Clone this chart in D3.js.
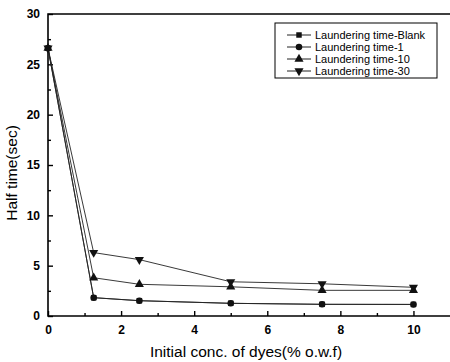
<!DOCTYPE html>
<html>
<head>
<meta charset="utf-8">
<script src="https://cdn.jsdelivr.net/npm/d3@7"></script>
<style>
    body { margin: 0; background: #fff; }
    svg { display: block; font-family: Arial, 'Liberation Sans', sans-serif; }
</style>
</head>
<body>
<svg id="chart" width="450" height="362"></svg>
<script>
// Values
const concentrations = [0, 1.25, 2.5, 5, 7.5, 10];
const seriesNames = ['Laundering time-Blank', 'Laundering time-1', 'Laundering time-10', 'Laundering time-30'];
const blankValues = [26.6, 1.82, 1.52, 1.26, 1.16, 1.15];
const time1Values = [26.6, 1.82, 1.52, 1.26, 1.16, 1.15];
const time10Values = [26.6, 3.8, 3.15, 2.9, 2.55, 2.55];
const time30Values = [26.6, 6.3, 5.6, 3.4, 3.2, 2.85];
const xTicks = [0, 2, 4, 6, 8, 10];
const yTicks = [0, 5, 10, 15, 20, 25, 30];

const svg = d3.select('#chart');
const margin = { left: 48, top: 14, right: 450, bottom: 316 };

const x = d3.scaleLinear().domain([0, 11]).range([margin.left, margin.right]);
const y = d3.scaleLinear().domain([0, 30]).range([margin.bottom, margin.top]);

// Frame: left, bottom and top lines (right edge falls outside the picture)
svg.append('path')
    .attr('d', `M${margin.right},${margin.top}H${margin.left}V${margin.bottom}H${margin.right}`)
    .attr('fill', 'none')
    .attr('stroke', '#000')
    .attr('stroke-width', 1.6);

// X axis, ticks pointing inward
const xAxis = svg.append('g')
    .attr('transform', `translate(0,${margin.bottom})`)
    .call(d3.axisBottom(x).tickValues(xTicks).tickSizeInner(-5).tickSizeOuter(0).tickPadding(9));
xAxis.select('.domain').remove();
xAxis.selectAll('text').attr('font-size', 12).attr('font-weight', 'bold').attr('fill', '#000');
svg.append('g')
    .attr('transform', `translate(0,${margin.bottom})`)
    .call(d3.axisBottom(x).tickValues([1, 3, 5, 7, 9]).tickSizeInner(-3).tickSizeOuter(0).tickFormat(''))
    .select('.domain').remove();

// Y axis, ticks pointing inward
const yAxis = svg.append('g')
    .attr('transform', `translate(${margin.left},0)`)
    .call(d3.axisLeft(y).tickValues(yTicks).tickSizeInner(-5).tickSizeOuter(0).tickPadding(8));
yAxis.select('.domain').remove();
yAxis.selectAll('text').attr('font-size', 12).attr('font-weight', 'bold').attr('fill', '#000');
svg.append('g')
    .attr('transform', `translate(${margin.left},0)`)
    .call(d3.axisLeft(y).tickValues([2.5, 7.5, 12.5, 17.5, 22.5, 27.5]).tickSizeInner(-3).tickSizeOuter(0).tickFormat(''))
    .select('.domain').remove();

svg.selectAll('.tick line').attr('stroke-width', 1.4);

// Axis titles
svg.append('text')
    .attr('x', 246).attr('y', 357)
    .attr('text-anchor', 'middle')
    .attr('font-size', 15.5)
    .text('Initial conc. of dyes(% o.w.f)');
svg.append('text')
    .attr('transform', `translate(17,${(margin.top + margin.bottom) / 2 + 8}) rotate(-90)`)
    .attr('text-anchor', 'middle')
    .attr('font-size', 15.5)
    .text('Half time(sec)');

// Markers
const markerTypes = [d3.symbolSquare, d3.symbolCircle, d3.symbolTriangle, d3.symbolTriangle];
const markerSizes = [30, 34, 36, 36];
const markerRotations = [0, 0, 0, 180];
const allValues = [blankValues, time1Values, time10Values, time30Values];

const line = d3.line()
    .x(d => x(d[0]))
    .y(d => y(d[1]));

function marker(g, i, cx, cy) {
    g.append('path')
        .attr('d', d3.symbol().type(markerTypes[i]).size(markerSizes[i])())
        .attr('transform', `translate(${cx},${cy}) rotate(${markerRotations[i]})`)
        .attr('fill', '#111');
}

allValues.forEach((values, i) => {
    const pts = concentrations.map((c, j) => [c, values[j]]);
    const g = svg.append('g');
    g.append('path')
        .attr('d', line(pts))
        .attr('fill', 'none')
        .attr('stroke', '#222')
        .attr('stroke-width', 0.9);
    pts.forEach(p => marker(g, i, x(p[0]), y(p[1])));
});

// Legend
const legend = svg.append('g');
legend.append('rect')
    .attr('x', 275).attr('y', 23)
    .attr('width', 162).attr('height', 55)
    .attr('fill', '#fff')
    .attr('stroke', '#000')
    .attr('stroke-width', 1);
seriesNames.forEach((name, i) => {
    const ly = 35 + i * 12;
    legend.append('line')
        .attr('x1', 287).attr('x2', 311)
        .attr('y1', ly).attr('y2', ly)
        .attr('stroke', '#222')
        .attr('stroke-width', 1);
    marker(legend, i, 299, ly);
    legend.append('text')
        .attr('x', 315).attr('y', ly + 4)
        .attr('font-size', 11)
        .text(name);
});
</script>
</body>
</html>
